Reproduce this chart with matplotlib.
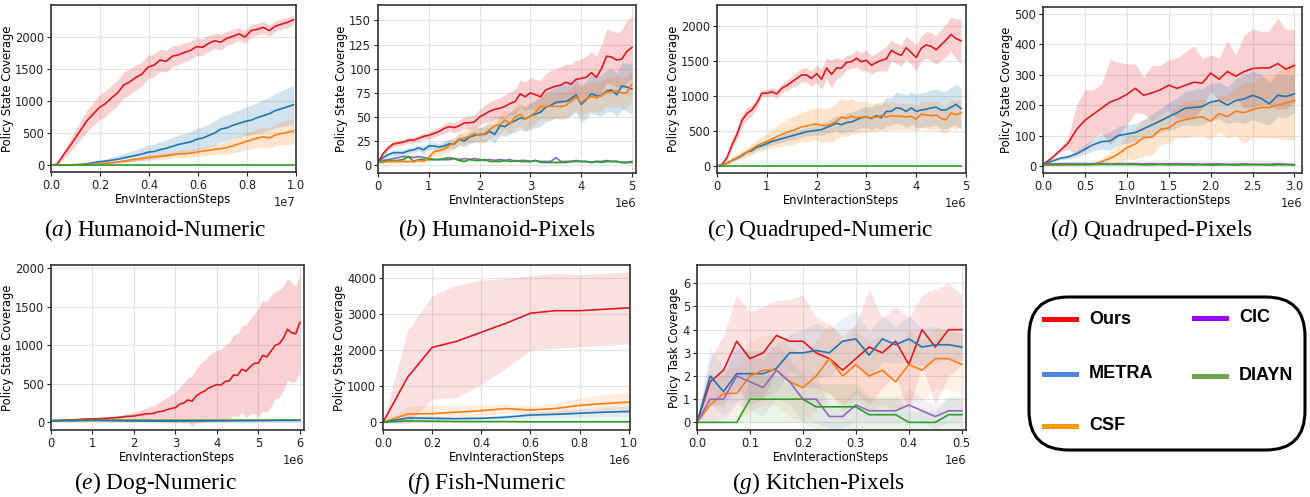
import numpy as np
import matplotlib.pyplot as plt
from matplotlib.patches import FancyBboxPatch
from matplotlib.lines import Line2D

plt.rcParams['mathtext.fontset'] = 'custom'
plt.rcParams['mathtext.rm'] = 'Liberation Serif'
plt.rcParams['mathtext.it'] = 'Liberation Serif:italic'

C_OURS = '#e3191f'
C_METRA = '#1f77b4'
C_CSF = '#ff7f0e'
C_CIC = '#9467bd'
C_DIAYN = '#2ca02c'

# (a) Humanoid-Numeric, x in 1e7
a_x = np.linspace(0, 0.99e7, 41)
a_ours = [0, 10, 150, 280, 420, 560, 700, 800, 900, 960, 1050, 1130, 1250, 1300, 1370, 1420,
          1530, 1560, 1640, 1620, 1700, 1720, 1760, 1790, 1850, 1840, 1900, 1940, 1920, 1980,
          2010, 2050, 2000, 2100, 2120, 2150, 2100, 2170, 2200, 2230, 2270]
a_ours_sd = [0, 0, 60, 100, 120, 150, 170, 180, 200, 200, 200, 200, 200, 200, 190, 190, 180,
             180, 170, 170, 160, 150, 150, 140, 140, 130, 130, 120, 120, 110, 110, 100, 100,
             100, 90, 90, 90, 80, 80, 80, 70]
a_metra = [0, 0, 0, 2, 5, 10, 20, 35, 50, 60, 75, 90, 110, 130, 150, 170, 200, 210, 240, 260,
           290, 320, 340, 360, 400, 420, 460, 500, 560, 580, 620, 650, 680, 700, 740, 770, 800,
           850, 880, 910, 940]
a_metra_sd = [0, 0, 0, 2, 5, 8, 12, 20, 30, 40, 50, 60, 70, 80, 90, 100, 110, 115, 120, 130,
              140, 150, 150, 160, 170, 170, 180, 190, 200, 200, 210, 210, 220, 230, 240, 250,
              260, 270, 280, 290, 300]
a_csf = [0, 0, 0, 0, 2, 5, 8, 12, 18, 25, 35, 45, 60, 75, 90, 100, 115, 125, 135, 145, 160,
         170, 175, 185, 200, 215, 230, 245, 255, 270, 300, 330, 360, 390, 420, 440, 420, 470,
         490, 510, 530]
a_csf_sd = [0, 0, 0, 0, 2, 4, 6, 8, 10, 12, 15, 18, 20, 25, 30, 35, 40, 40, 45, 50, 50, 55, 60,
            60, 65, 70, 75, 80, 90, 100, 110, 120, 130, 140, 150, 160, 160, 170, 180, 190, 200]
a_diayn = [0] * 41

# (b) Humanoid-Pixels, x in 1e6
b_x = np.linspace(0, 5.0e6, 51)
b_ours = [3, 12, 18, 22, 23, 24, 26, 26, 28, 30, 31, 33, 35, 38, 40, 39, 41, 44, 44, 45, 50,
          53, 56, 58, 59, 61, 64, 66, 74, 71, 75, 73, 71, 78, 80, 82, 83, 86, 84, 89, 90, 91,
          96, 91, 100, 113, 112, 109, 110, 118, 122]
b_ours_sd = [1, 2, 3, 3, 3, 3, 3, 3, 3, 3, 4, 4, 4, 5, 5, 5, 6, 6, 7, 7, 8, 9, 10, 10, 11, 12,
             12, 13, 14, 15, 16, 16, 17, 17, 18, 18, 19, 19, 20, 20, 20, 22, 22, 22, 25, 28,
             28, 28, 30, 32, 33]
b_metra = [3, 8, 11, 13, 13, 13, 15, 16, 18, 16, 20, 20, 19, 20, 22, 22, 27, 25, 29, 31, 32,
           32, 35, 32, 41, 40, 44, 46, 49, 48, 51, 53, 55, 60, 62, 65, 66, 66, 69, 73, 63, 68,
           74, 72, 72, 77, 78, 73, 82, 81, 79]
b_metra_sd = [1, 2, 2, 3, 3, 3, 3, 3, 3, 4, 4, 4, 4, 5, 5, 5, 6, 6, 6, 7, 7, 8, 8, 9, 10, 10,
              11, 12, 12, 13, 14, 14, 15, 15, 16, 16, 17, 17, 18, 18, 19, 20, 20, 20, 21, 22,
              22, 23, 24, 25, 26]
b_csf = [3, 3, 4, 4, 4, 4, 4, 4, 5, 4, 8, 14, 15, 17, 20, 23, 27, 28, 30, 33, 31, 33, 37, 41,
         42, 47, 43, 50, 53, 48, 51, 55, 61, 61, 61, 61, 61, 62, 67, 71, 65, 69, 71, 70, 72,
         76, 76, 77, 75, 75, 84]
b_csf_sd = [0, 0, 1, 1, 1, 1, 1, 1, 1, 1, 3, 4, 5, 5, 6, 6, 7, 7, 8, 8, 8, 9, 9, 10, 10, 10,
            11, 11, 12, 12, 12, 12, 13, 13, 13, 13, 14, 14, 14, 14, 15, 15, 15, 15, 15, 15,
            16, 16, 16, 16, 16]
b_cic = [3, 5, 6, 7, 8, 9, 9, 8, 9, 8, 7, 6, 6, 7, 8, 7, 6, 7, 6, 7, 6, 5, 6, 5, 6, 5, 6, 4,
         5, 5, 4, 5, 4, 4, 4, 8, 4, 4, 4, 5, 4, 4, 3, 4, 4, 5, 4, 4, 3, 3, 3]
b_diayn = [3, 4, 5, 5, 5, 6, 9, 4, 6, 6, 6, 6, 6, 6, 6, 7, 5, 4, 6, 5, 5, 6, 4, 4, 4, 5, 4, 5,
           4, 4, 4, 5, 3, 3, 3, 3, 3, 3, 4, 4, 4, 4, 3, 4, 3, 4, 4, 4, 3, 3, 4]

# (c) Quadruped-Numeric, x in 1e6
c_x = np.linspace(0, 4.9e6, 50)
c_ours = [0, 20, 120, 300, 450, 650, 750, 800, 900, 1040, 1040, 1060, 1030, 1110, 1150, 1200,
          1250, 1300, 1300, 1250, 1320, 1240, 1400, 1310, 1400, 1400, 1480, 1490, 1540, 1490,
          1510, 1440, 1480, 1510, 1530, 1650, 1610, 1580, 1690, 1620, 1550, 1680, 1730, 1710,
          1660, 1730, 1800, 1880, 1820, 1790]
c_ours_sd = [0, 10, 40, 60, 80, 90, 90, 80, 70, 50, 50, 60, 60, 70, 70, 80, 90, 100, 100, 110,
             120, 150, 150, 200, 150, 120, 100, 100, 120, 130, 150, 130, 130, 150, 180, 150,
             140, 150, 160, 170, 180, 180, 190, 200, 200, 220, 230, 250, 280, 320]
c_metra = [0, 10, 40, 80, 110, 150, 200, 220, 270, 290, 320, 350, 370, 390, 410, 430, 450, 470,
           490, 500, 510, 520, 550, 580, 610, 590, 620, 630, 660, 690, 700, 680, 720, 690, 780,
           780, 830, 820, 780, 830, 780, 800, 810, 830, 840, 800, 800, 840, 880, 820]
c_metra_sd = [0, 5, 10, 15, 20, 25, 30, 35, 40, 40, 40, 45, 50, 50, 55, 55, 60, 60, 60, 70, 70,
              80, 90, 100, 110, 120, 130, 140, 140, 150, 150, 160, 170, 180, 200, 200, 220, 220,
              230, 230, 240, 250, 250, 260, 260, 270, 270, 280, 290, 300]
c_csf = [0, 10, 40, 80, 120, 160, 200, 240, 290, 320, 350, 380, 420, 450, 480, 500, 530, 560,
         570, 590, 600, 580, 580, 600, 640, 700, 680, 710, 690, 700, 700, 690, 700, 720, 700,
         720, 710, 710, 700, 710, 670, 740, 730, 720, 730, 680, 660, 760, 730, 760]
c_csf_sd = [0, 10, 30, 40, 50, 60, 70, 80, 90, 100, 110, 130, 150, 170, 190, 200, 200, 210, 220,
            230, 230, 240, 240, 250, 260, 270, 260, 250, 230, 220, 220, 200, 200, 200, 200, 200,
            190, 190, 190, 190, 180, 180, 200, 200, 200, 200, 200, 200, 200, 200]
c_diayn = [0] * 50

# (d) Quadruped-Pixels, x in 1e6
d_x = np.linspace(0, 3.0e6, 31)
d_ours = [5, 25, 50, 75, 120, 150, 170, 190, 210, 220, 235, 255, 232, 240, 250, 265, 255, 265,
          275, 272, 305, 285, 310, 295, 310, 320, 322, 322, 336, 318, 330]
d_ours_sd = [0, 5, 5, 20, 80, 100, 80, 80, 140, 120, 100, 80, 60, 90, 80, 85, 100, 110, 120,
             80, 60, 70, 100, 70, 120, 130, 120, 120, 150, 130, 120]
d_metra = [5, 15, 25, 30, 40, 55, 70, 80, 82, 100, 105, 110, 122, 135, 148, 162, 175, 190, 192,
           195, 210, 215, 200, 215, 220, 232, 222, 204, 232, 228, 237]
d_metra_sd = [0, 3, 5, 8, 10, 15, 20, 25, 30, 30, 30, 30, 30, 35, 40, 45, 50, 55, 60, 60, 60,
              60, 60, 70, 80, 80, 80, 70, 70, 70, 60]
d_csf = [3, 3, 3, 4, 4, 4, 5, 15, 25, 40, 60, 72, 93, 95, 120, 125, 145, 152, 158, 162, 147,
         172, 162, 180, 175, 185, 192, 192, 200, 207, 215]
d_csf_sd = [0, 0, 0, 1, 1, 1, 2, 10, 20, 30, 40, 50, 60, 60, 50, 50, 50, 60, 60, 60, 60, 60,
            70, 80, 100, 90, 100, 100, 110, 120, 130]
d_cic = [5, 7, 8, 8, 8, 8, 8, 8, 7, 8, 8, 8, 7, 8, 7, 7, 8, 7, 7, 6, 7, 7, 6, 6, 7, 6, 6, 6, 7,
         6, 5]
d_diayn = [5, 5, 5, 5, 5, 5, 5, 5, 5, 5, 5, 5, 4, 4, 5, 4, 4, 4, 4, 4, 3, 4, 4, 3, 4, 4, 4, 3,
           4, 4, 3]

# (e) Dog-Numeric, x in 1e6
e_x = np.linspace(0, 6.0e6, 61)
e_ours = [20, 22, 25, 27, 30, 32, 35, 38, 42, 43, 44, 45, 48, 50, 55, 58, 62, 68, 75, 78, 82,
          92, 102, 110, 112, 122, 138, 145, 165, 180, 190, 235, 250, 290, 275, 340, 380, 405,
          445, 470, 490, 485, 530, 540, 615, 610, 690, 665, 720, 765, 770, 870, 850, 920, 1000,
          1020, 1090, 1210, 1165, 1150, 1300]
e_ours_sd = [5, 5, 5, 5, 8, 10, 12, 15, 20, 20, 20, 20, 20, 20, 20, 22, 25, 30, 35, 40, 45, 55,
             65, 75, 90, 100, 120, 140, 160, 180, 200, 230, 260, 290, 320, 350, 380, 400, 420,
             440, 450, 460, 480, 500, 520, 540, 560, 600, 620, 650, 700, 720, 720, 720, 700,
             700, 680, 660, 650, 620, 640]
e_x_coarse = np.linspace(0, 6.0e6, 13)
e_metra = [20, 22, 25, 20, 17, 15, 15, 17, 18, 20, 22, 24, 25]
e_csf = [20, 22, 25, 25, 24, 22, 22, 23, 23, 24, 24, 25, 25]
e_diayn = [22, 24, 26, 27, 27, 26, 26, 26, 26, 27, 27, 28, 28]

# (f) Fish-Numeric, x in 1e6
f_x = np.linspace(0, 1.0e6, 11)
f_ours = [0, 1250, 2080, 2250, 2500, 2750, 3030, 3100, 3100, 3140, 3180]
f_ours_sd = [0, 1300, 1440, 1560, 1450, 1250, 1030, 1045, 1000, 1000, 1000]
f_csf = [0, 230, 240, 280, 320, 380, 340, 380, 470, 520, 560]
f_csf_sd = [0, 200, 250, 200, 150, 120, 120, 150, 200, 250, 280]
f_metra = [0, 120, 110, 100, 110, 140, 200, 220, 250, 280, 300]
f_metra_sd = [0, 50, 50, 40, 50, 60, 80, 100, 120, 130, 150]
f_diayn = [0, 40, 30, 20, 20, 20, 15, 15, 15, 15, 15]
f_diayn_sd = [0, 20, 15, 10, 10, 10, 10, 10, 10, 10, 10]

# (g) Kitchen-Pixels, x in 1e6
g_x = np.linspace(0, 0.5e6, 21)
g_ours = [0, 1.75, 2.25, 3.5, 2.75, 3.0, 3.75, 3.5, 3.5, 3.0, 2.75, 2.25, 2.75, 3.25, 3.0, 3.5,
          2.5, 4.0, 3.25, 4.0, 4.0]
g_ours_sd = [0, 1.0, 1.5, 2.0, 2.0, 2.0, 1.5, 1.8, 2.0, 1.5, 1.5, 1.5, 1.5, 2.5, 1.5, 1.5, 2.0,
             1.5, 2.5, 2.0, 1.5]
g_metra = [0, 2.0, 1.33, 2.1, 2.1, 2.1, 2.33, 3.0, 3.0, 3.1, 3.0, 3.5, 3.6, 2.9, 3.6, 3.35, 3.6,
           3.25, 3.35, 3.35, 3.25]
g_metra_sd = [0, 1.2, 1.0, 1.2, 1.0, 1.0, 1.0, 0.8, 1.0, 1.2, 1.0, 1.0, 1.2, 1.0, 1.0, 0.8, 1.0,
              0.8, 0.8, 0.6, 0.6]
g_csf = [0, 0.75, 1.25, 1.25, 2.0, 2.25, 2.25, 1.75, 1.5, 2.0, 2.75, 2.0, 2.5, 2.0, 2.25, 1.75,
         2.5, 2.25, 2.75, 2.75, 2.5]
g_csf_sd = [0, 0.8, 1.0, 1.2, 1.5, 1.5, 1.5, 1.5, 1.5, 1.5, 1.5, 1.5, 1.5, 1.5, 1.5, 1.3, 1.5,
            1.3, 1.3, 1.3, 1.3]
g_cic = [0, 1.0, 1.0, 2.0, 1.75, 1.5, 2.25, 1.75, 1.0, 1.0, 0.25, 0.25, 0.75, 0.5, 0.5, 0.5, 0.75,
         0.5, 0.25, 0.5, 0.5]
g_cic_sd = [0, 1.0, 1.0, 1.2, 1.2, 1.2, 1.2, 1.0, 1.0, 1.0, 0.5, 0.5, 0.7, 0.5, 0.5, 0.5, 0.7,
            0.5, 0.5, 0.5, 0.5]
g_diayn = [0, 0, 0, 0, 1.0, 1.0, 1.0, 1.0, 1.0, 0.67, 0.67, 0.67, 0.67, 0.33, 0.33, 0.33, 0, 0,
           0, 0.33, 0.33]
g_diayn_sd = [0, 0, 0, 0, 1.0, 1.0, 1.0, 1.0, 1.0, 1.0, 1.0, 1.0, 1.0, 0.8, 0.8, 0.8, 0.5, 0.5,
              0.5, 0.8, 0.8]

legend_names = ['Ours', 'METRA', 'CSF', 'CIC', 'DIAYN']
legend_colors = ['#ff0000', '#4a86e8', '#ff9900', '#9900ff', '#6aa84f']

captions = [('(a)', 'Humanoid-Numeric'), ('(b)', 'Humanoid-Pixels'),
            ('(c)', 'Quadruped-Numeric'), ('(d)', 'Quadruped-Pixels'),
            ('(e)', 'Dog-Numeric'), ('(f)', 'Fish-Numeric'), ('(g)', 'Kitchen-Pixels')]

W, H = 1310, 497
fig = plt.figure(figsize=(W / 100, H / 100), dpi=100)


def px_axes(left, top, right, bottom):
    return fig.add_axes([left / W, 1 - bottom / H, (right - left) / W, (bottom - top) / H])


def curve(ax, x, y, c, sd=None, alpha=0.2, lw=1.2):
    y = np.array(y, dtype=float)
    if sd is not None:
        sd = np.array(sd, dtype=float)
        ax.fill_between(x, y - sd, y + sd, color=c, alpha=alpha, lw=0)
    ax.plot(x, y, color=c, lw=lw)


def style(ax, xlim, ylim, exp, ylabel='Policy State Coverage'):
    ax.set_xlim(*xlim)
    ax.set_ylim(*ylim)
    ax.ticklabel_format(axis='x', style='sci', scilimits=(exp, exp))
    ax.grid(True, color='#e3e3e3', lw=0.8)
    ax.set_axisbelow(True)
    for s in ax.spines.values():
        s.set_color('#333333')
        s.set_linewidth(1.2)
    ax.tick_params(labelsize=8.3, length=3, width=0.8, pad=2, colors='#222222')
    ax.set_xlabel('EnvInteractionSteps', fontsize=8.3, labelpad=1)
    ax.set_ylabel(ylabel, fontsize=8.3, labelpad=1)
    ax.xaxis.get_offset_text().set_fontsize(8.3)


axs = [px_axes(51, 5, 296, 172), px_axes(378, 5, 636, 173),
       px_axes(717, 5, 966, 173), px_axes(1043, 7, 1302, 173),
       px_axes(51, 265, 304, 430), px_axes(383, 265, 630, 430),
       px_axes(697, 265, 966, 430)]

ax = axs[0]
curve(ax, a_x, a_ours, C_OURS, a_ours_sd)
curve(ax, a_x, a_metra, C_METRA, a_metra_sd)
curve(ax, a_x, a_csf, C_CSF, a_csf_sd)
curve(ax, a_x, a_diayn, C_DIAYN)
style(ax, (0, 1.0e7), (-110, 2500), 7)
ax.set_yticks([0, 500, 1000, 1500, 2000])

ax = axs[1]
curve(ax, b_x, b_cic, C_CIC, [1] * 51)
curve(ax, b_x, b_diayn, C_DIAYN, [1] * 51)
curve(ax, b_x, b_ours, C_OURS, b_ours_sd)
curve(ax, b_x, b_metra, C_METRA, b_metra_sd)
curve(ax, b_x, b_csf, C_CSF, b_csf_sd)
style(ax, (0, 5.08e6), (-8, 166), 6)
ax.set_yticks([0, 25, 50, 75, 100, 125, 150])

ax = axs[2]
curve(ax, c_x, c_ours, C_OURS, c_ours_sd)
curve(ax, c_x, c_metra, C_METRA, c_metra_sd)
curve(ax, c_x, c_csf, C_CSF, c_csf_sd)
curve(ax, c_x, c_diayn, C_DIAYN)
style(ax, (0, 5.0e6), (-100, 2300), 6)
ax.set_yticks([0, 500, 1000, 1500, 2000])

ax = axs[3]
curve(ax, d_x, d_ours, C_OURS, d_ours_sd)
curve(ax, d_x, d_metra, C_METRA, d_metra_sd)
curve(ax, d_x, d_csf, C_CSF, d_csf_sd)
curve(ax, d_x, d_cic, C_CIC, [2] * 31)
curve(ax, d_x, d_diayn, C_DIAYN, [1] * 31)
style(ax, (0, 3.09e6), (-23, 522), 6)
ax.set_yticks([0, 100, 200, 300, 400, 500])

ax = axs[4]
curve(ax, e_x, e_ours, C_OURS, e_ours_sd)
curve(ax, e_x_coarse, e_csf, C_CSF)
curve(ax, e_x_coarse, e_diayn, C_DIAYN)
curve(ax, e_x_coarse, e_metra, C_METRA)
style(ax, (0, 6.1e6), (-100, 2045), 6)
ax.set_yticks([0, 500, 1000, 1500, 2000])

ax = axs[5]
curve(ax, f_x, f_ours, C_OURS, f_ours_sd, alpha=0.13)
curve(ax, f_x, f_csf, C_CSF, f_csf_sd, alpha=0.13)
curve(ax, f_x, f_metra, C_METRA, f_metra_sd, alpha=0.13)
curve(ax, f_x, f_diayn, C_DIAYN, f_diayn_sd, alpha=0.13)
style(ax, (0, 1.005e6), (-215, 4370), 6)
ax.set_yticks([0, 1000, 2000, 3000, 4000])

ax = axs[6]
curve(ax, g_x, g_ours, C_OURS, g_ours_sd, alpha=0.12)
curve(ax, g_x, g_metra, C_METRA, g_metra_sd, alpha=0.1)
curve(ax, g_x, g_csf, C_CSF, g_csf_sd, alpha=0.1)
curve(ax, g_x, g_cic, C_CIC, g_cic_sd, alpha=0.1)
curve(ax, g_x, g_diayn, C_DIAYN, g_diayn_sd, alpha=0.1)
style(ax, (0, 0.508e6), (-0.33, 6.79), 6, ylabel='Policy Task Coverage')
ax.set_yticks([0, 1, 2, 3, 4, 5, 6])

# sub-captions
cap_pos = [(155, 230), (497, 230), (820, 230), (1152, 230),
           (155, 483), (487, 483), (819, 483)]
for (tag, name), (cx, cy) in zip(captions, cap_pos):
    fig.text(cx / W, 1 - cy / H, r'$\mathit{' + tag + r'}$ ' + name,
             ha='center', va='center', fontsize=16.8, family='Liberation Serif')

# legend box
box = FancyBboxPatch((1029 / W, 1 - 450 / H), 276 / W, 153 / H,
                     boxstyle='round,pad=0,rounding_size=0.03', transform=fig.transFigure,
                     fill=False, ec='black', lw=2.2, mutation_aspect=W / H)
fig.add_artist(box)
leg_pos = [(1044, 319), (1044, 374), (1044, 426), (1194, 318), (1194, 376)]
for name, col, (lx, ly) in zip(legend_names, legend_colors, leg_pos):
    fig.add_artist(Line2D([lx / W, (lx + 32) / W], [1 - ly / H, 1 - ly / H], color=col, lw=3.6,
                          transform=fig.transFigure))
    fig.text((lx + 45) / W, 1 - ly / H, name, ha='left', va='center', fontsize=13,
             fontweight='bold', family='Liberation Sans')

fig.savefig('out.png', dpi=100)
